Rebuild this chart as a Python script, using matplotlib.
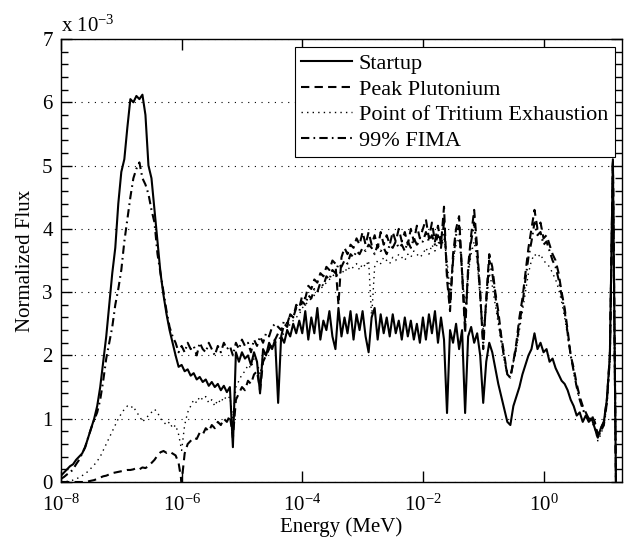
import numpy as np
import matplotlib
matplotlib.use("Agg")
import matplotlib.pyplot as plt
from matplotlib.ticker import FixedLocator, MultipleLocator, LogFormatterMathtext, NullLocator

plt.rcParams['font.family'] = ['Liberation Serif', 'DejaVu Serif']
plt.rcParams['mathtext.fontset'] = 'custom'
plt.rcParams['mathtext.rm'] = 'Liberation Serif'
plt.rcParams['mathtext.it'] = 'Liberation Serif:italic'
plt.rcParams['font.size'] = 14

# energy bins: log10(E/MeV) from -8 in steps of 0.05 decade (185 bins)
log_energy_start = -8.0
log_energy_step = 0.05

# Normalized flux values (x 1e-3)
startup = [
    0.10, 0.15, 0.20, 0.25, 0.28, 0.35, 0.40, 0.45, 0.55, 0.70,
    0.85, 1.00, 1.20, 1.50, 1.90, 2.30, 2.80, 3.30, 3.70, 4.40,
    4.90, 5.10, 5.60, 6.05, 6.00, 6.10, 6.05, 6.12, 5.80, 5.00,
    4.80, 4.30, 3.80, 3.30, 2.95, 2.65, 2.40, 2.20, 2.00, 1.82,
    1.85, 1.75, 1.78, 1.68, 1.72, 1.62, 1.66, 1.58, 1.62, 1.52,
    1.58, 1.50, 1.55, 1.45, 1.52, 1.42, 1.50, 0.55, 2.05, 1.90,
    2.05, 1.95, 2.00, 1.85, 2.05, 1.90, 1.40, 2.10, 2.00, 2.20,
    2.10, 2.25, 1.25, 2.30, 2.20, 2.40, 2.30, 2.50, 2.35, 2.55,
    2.35, 2.70, 2.25, 2.60, 2.35, 2.75, 2.25, 2.55, 2.40, 2.70,
    2.30, 2.10, 2.75, 2.30, 2.60, 2.35, 2.70, 2.25, 2.65, 2.40,
    2.70, 2.30, 2.05, 2.60, 2.75, 2.25, 2.65, 2.35, 2.60, 2.30,
    2.65, 2.35, 2.55, 2.25, 2.60, 2.30, 2.55, 2.25, 2.50, 2.20,
    2.60, 2.25, 2.65, 2.35, 2.70, 2.20, 2.60, 2.25, 1.09, 2.40,
    2.20, 2.50, 2.10, 2.40, 1.09, 2.30, 2.45, 2.20, 2.35, 2.00,
    1.25, 1.90, 2.20, 2.05, 1.80, 1.55, 1.35, 1.15, 0.95, 0.90,
    1.20, 1.35, 1.50, 1.70, 1.85, 2.00, 2.10, 2.35, 2.10, 2.20,
    2.05, 2.10, 1.90, 1.95, 1.80, 1.70, 1.60, 1.55, 1.45, 1.30,
    1.20, 1.05, 1.10, 0.95, 1.05, 0.95, 1.00, 0.85, 0.70, 0.85,
    0.95, 1.30, 2.00, 5.10, 0.00,
]

peak_plutonium = [
    0.00, 0.00, 0.00, 0.00, 0.00, 0.00, 0.00, 0.00, 0.00, 0.01,
    0.02, 0.03, 0.05, 0.07, 0.09, 0.10, 0.12, 0.14, 0.15, 0.16,
    0.17, 0.18, 0.19, 0.19, 0.20, 0.22, 0.20, 0.23, 0.22, 0.25,
    0.30, 0.35, 0.42, 0.47, 0.49, 0.46, 0.48, 0.45, 0.42, 0.30,
    0.00, 0.45, 0.60, 0.65, 0.70, 0.68, 0.78, 0.75, 0.85, 0.80,
    0.90, 0.85, 0.95, 0.90, 1.00, 0.95, 1.05, 0.70, 1.30, 1.40,
    1.50, 1.45, 1.60, 1.55, 1.70, 1.75, 1.45, 1.90, 2.00, 2.10,
    2.20, 2.25, 2.35, 2.30, 2.50, 2.45, 2.65, 2.60, 2.80, 2.75,
    2.95, 2.90, 3.10, 3.05, 3.20, 3.15, 3.30, 3.25, 3.40, 3.35,
    3.50, 3.45, 2.80, 3.55, 3.70, 3.60, 3.75, 3.70, 3.85, 3.75,
    3.95, 3.75, 3.95, 3.75, 3.90, 3.70, 3.95, 3.75, 3.90, 3.75,
    3.95, 3.80, 4.00, 3.80, 3.95, 3.75, 4.00, 3.80, 4.05, 3.85,
    4.00, 4.15, 3.85, 4.10, 3.80, 4.05, 3.75, 4.35, 3.20, 2.70,
    3.60, 4.00, 4.20, 3.30, 2.35, 3.40, 3.90, 4.30, 3.70, 3.00,
    2.10, 2.90, 3.60, 3.40, 3.00, 2.70, 2.30, 2.00, 1.70, 1.65,
    1.90, 2.20, 2.60, 2.90, 3.30, 3.70, 4.00, 4.30, 4.00, 4.10,
    3.85, 3.90, 3.75, 3.60, 3.50, 3.30, 3.00, 2.75, 2.40, 2.00,
    1.80, 1.55, 1.35, 1.20, 1.10, 1.00, 1.05, 0.95, 0.75, 0.85,
    0.95, 1.30, 2.00, 5.10, 0.00,
]

tritium_exhaustion = [
    0.00, 0.00, 0.01, 0.02, 0.03, 0.05, 0.07, 0.10, 0.13, 0.17,
    0.22, 0.27, 0.33, 0.40, 0.50, 0.60, 0.70, 0.80, 0.90, 1.00,
    1.08, 1.15, 1.20, 1.17, 1.20, 1.10, 1.05, 0.95, 1.00, 1.05,
    1.10, 1.15, 1.10, 1.00, 0.95, 0.90, 0.95, 0.85, 0.90, 0.75,
    0.50, 0.90, 1.10, 1.20, 1.30, 1.25, 1.35, 1.30, 1.35, 1.25,
    1.30, 1.20, 1.30, 1.25, 1.35, 1.30, 1.35, 1.00, 1.50, 1.60,
    1.70, 1.75, 1.85, 1.80, 1.95, 1.90, 1.70, 2.00, 2.05, 2.10,
    2.15, 2.20, 2.25, 2.30, 2.35, 2.40, 2.50, 2.55, 2.60, 2.65,
    2.75, 2.80, 2.85, 2.90, 2.95, 3.00, 3.05, 3.10, 3.15, 3.20,
    3.25, 3.30, 3.25, 3.35, 3.30, 3.40, 3.35, 3.40, 3.45, 3.35,
    3.45, 3.40, 3.50, 2.60, 3.40, 3.50, 3.45, 3.55, 3.50, 3.45,
    3.55, 3.50, 3.60, 3.55, 3.50, 3.60, 3.55, 3.65, 3.60, 3.55,
    3.60, 3.70, 3.60, 3.75, 3.65, 3.80, 3.70, 3.85, 3.50, 3.00,
    3.50, 3.75, 3.85, 3.40, 2.70, 3.30, 3.60, 3.80, 3.50, 2.90,
    2.40, 2.80, 3.30, 3.10, 2.80, 2.50, 2.20, 1.95, 1.70, 1.70,
    1.90, 2.10, 2.40, 2.70, 3.00, 3.30, 3.50, 3.60, 3.55, 3.60,
    3.50, 3.45, 3.40, 3.30, 3.20, 3.05, 2.85, 2.60, 2.30, 2.00,
    1.75, 1.50, 1.30, 1.15, 1.05, 1.00, 0.95, 0.85, 0.65, 0.75,
    0.90, 1.20, 1.90, 5.00, 0.00,
]

fima_99 = [
    0.05, 0.08, 0.12, 0.15, 0.20, 0.28, 0.35, 0.45, 0.55, 0.70,
    0.85, 0.98, 1.10, 1.30, 1.60, 1.95, 2.20, 2.45, 2.80, 3.05,
    3.35, 3.80, 4.15, 4.50, 4.80, 4.95, 5.05, 4.80, 4.70, 4.55,
    4.30, 4.10, 3.60, 3.30, 3.00, 2.70, 2.45, 2.30, 2.20, 2.05,
    2.15, 2.05, 2.20, 2.10, 2.15, 2.00, 2.20, 2.10, 2.05, 2.20,
    2.10, 2.00, 2.15, 2.05, 2.20, 2.10, 2.15, 2.00, 2.20, 2.10,
    2.25, 2.15, 2.20, 2.05, 2.25, 2.15, 2.30, 2.20, 2.35, 2.30,
    2.45, 2.50, 2.45, 2.40, 2.55, 2.50, 2.65, 2.60, 2.75, 2.70,
    2.85, 2.80, 2.95, 2.90, 3.05, 3.00, 3.15, 3.10, 3.25, 3.20,
    3.35, 3.30, 3.45, 3.40, 3.50, 3.45, 3.60, 3.55, 3.65, 3.60,
    3.70, 3.65, 3.75, 3.70, 3.60, 3.75, 3.65, 3.70, 3.60, 3.75,
    3.70, 3.80, 3.70, 3.75, 3.65, 3.80, 3.70, 3.85, 3.75, 3.80,
    3.80, 3.95, 3.80, 3.90, 3.75, 3.90, 3.70, 4.10, 3.30, 2.80,
    3.50, 3.90, 4.05, 3.30, 2.50, 3.30, 3.80, 4.10, 3.60, 2.95,
    2.20, 2.85, 3.50, 3.30, 2.95, 2.60, 2.25, 1.95, 1.70, 1.65,
    1.90, 2.15, 2.50, 2.80, 3.20, 3.55, 3.80, 4.10, 3.90, 3.95,
    3.75, 3.80, 3.65, 3.50, 3.40, 3.20, 2.95, 2.70, 2.35, 2.00,
    1.75, 1.50, 1.30, 1.15, 1.05, 1.00, 1.00, 0.90, 0.70, 0.80,
    0.90, 1.25, 1.95, 5.05, 0.00,
]

series_labels = ['Startup', 'Peak Plutonium', 'Point of Tritium Exhaustion', '99% FIMA']
x_tick_values = [1e-8, 1e-6, 1e-4, 1e-2, 1e0]
y_tick_values = [0, 1, 2, 3, 4, 5, 6, 7]

n = len(startup)
energy = 10.0 ** (log_energy_start + log_energy_step * np.arange(n))

fig = plt.figure(figsize=(6.24, 5.42), dpi=100)
ax = fig.add_axes([61/624, 1 - 482/542, (622 - 61)/624, (482 - 39)/542])

lw = 1.5
ax.plot(energy, startup, color='k', lw=lw, linestyle='-', label=series_labels[0])
ax.plot(energy, peak_plutonium, color='k', lw=lw, linestyle=(0, (4, 2.5)), label=series_labels[1])
ax.plot(energy, tritium_exhaustion, color='k', lw=1.0, linestyle=(0, (1, 3)), label=series_labels[2])
ax.plot(energy, fima_99, color='k', lw=lw, linestyle=(0, (4, 2, 0.8, 2)), label=series_labels[3])

ax.set_xscale('log')
ax.set_xlim(1e-8, 20)
ax.set_ylim(0, 7)
ax.xaxis.set_major_locator(FixedLocator(x_tick_values))
ax.xaxis.set_major_formatter(LogFormatterMathtext())
ax.xaxis.set_minor_locator(NullLocator())
ax.yaxis.set_major_locator(FixedLocator(y_tick_values))
ax.yaxis.set_minor_locator(MultipleLocator(0.2))

ax.tick_params(which='both', direction='in', top=True, right=True, width=1.0, labelsize=15)
ax.tick_params(which='major', length=8)
ax.tick_params(axis='y', which='major', pad=6)
ax.tick_params(axis='x', which='major', pad=9)
ax.tick_params(which='minor', length=5)
for s in ax.spines.values():
    s.set_linewidth(1.0)

ax.yaxis.grid(True, which='major', linestyle=(0, (1, 5)), color='k', lw=0.8)

ax.set_xlabel('Energy (MeV)', fontsize=15, labelpad=1)
ax.set_ylabel('Normalized Flux', fontsize=15, labelpad=5)
ax.text(0.0, 1.005, r'x 10$^{-3}$', transform=ax.transAxes, ha='left', va='bottom', fontsize=15)

leg = ax.legend(loc='upper right', bbox_to_anchor=(0.9875, 0.982), borderaxespad=0,
                fancybox=False, framealpha=1, edgecolor='k', fontsize=16,
                handlelength=2.3, handletextpad=0.3, labelspacing=0.22, borderpad=0.3)
leg.get_frame().set_linewidth(0.8)

fig.savefig('out.png', dpi=100)
